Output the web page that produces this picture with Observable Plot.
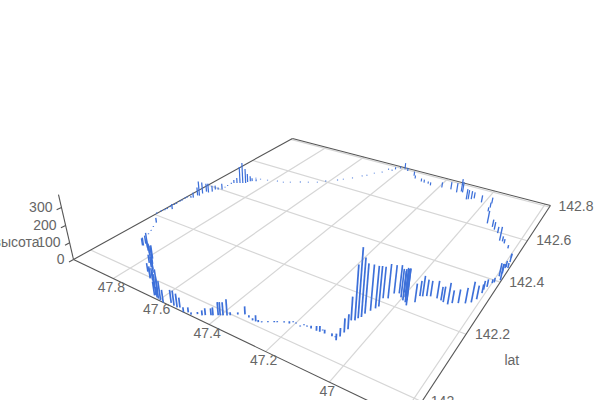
<!DOCTYPE html>
<html>
<head>
<meta charset="utf-8">
<style>html,body{margin:0;padding:0;background:#fff}svg{display:block}</style>
<script src="https://cdn.jsdelivr.net/npm/d3@7"></script>
<script src="https://cdn.jsdelivr.net/npm/@observablehq/plot@0.6"></script>
</head>
<body>
<div id="chart"></div>
<script>
// Values: 47.x axis, 142.x axis ("lat"), height ("высота")
const axisAValues = [
47.945,47.931,47.918,47.908,47.881,47.867,47.870,47.830,47.798,47.781,47.758,47.735,47.720,47.704,47.690,47.668,47.658,47.639,47.628,47.625,47.607,47.595,47.581,47.614,
47.560,47.544,47.530,47.523,47.499,47.487,47.473,47.459,47.444,47.437,47.423,47.418,47.406,47.401,47.394,47.384,47.377,47.361,47.344,47.326,47.309,47.299,47.291,47.282,47.268,47.253,47.246,47.229,47.214,47.208,47.198,47.181,47.175,47.165,47.151,47.133,47.123,47.119,47.108,47.085,47.075,47.067,
47.066,47.065,47.063,47.075,47.066,47.063,47.058,47.057,47.050,47.043,47.039,47.047,47.034,47.030,47.017,47.004,46.993,46.983,46.974,47.007,46.994,46.983,46.994,
46.959,46.959,46.952,46.942,46.932,46.912,46.898,46.889,46.874,46.865,46.850,46.832,46.819,46.811,46.808,46.810,46.806,46.799,46.795,46.783,46.790,46.793,46.789,46.794,46.784,46.791,46.792,
46.821,46.842,46.851,46.861,46.883,46.901,46.913,46.937,46.965,46.968,46.974,47.011,47.046,47.053,47.063,47.069,47.103,47.110,47.123,47.152,47.189,47.236,47.250,47.268,47.282,47.315,47.330,47.373,47.390,47.410,47.424,47.430,47.447,
47.457,47.480,47.497,47.510,47.534,47.560,47.576,47.612,47.635,47.666,47.694,47.728,47.752,47.778,47.817,47.847,47.869,
47.853,47.867,47.873,47.878,47.879,47.888,47.898,47.908,47.918,47.922,47.923,47.922,47.920,47.933,47.943,47.941,47.948,47.960,47.962,47.960,47.967,47.968,47.975,47.988,47.987,47.986,47.970,47.986,47.992,47.993,
47.989,47.988,47.987,47.988,47.987,47.870,47.846,47.813,47.787,47.772,47.747,47.738,47.708
];
const axisBValues = [
142.173,142.154,142.138,142.123,142.100,142.081,142.080,142.072,142.061,142.054,142.039,142.025,142.016,141.997,141.995,141.985,141.979,141.975,141.960,141.962,141.957,141.955,141.953,141.958,
141.961,141.958,141.957,141.960,141.953,141.958,141.956,141.964,141.966,141.970,141.976,141.978,141.984,141.986,141.989,141.993,141.997,142.007,142.015,142.012,142.009,142.010,142.011,142.014,142.021,142.028,142.031,142.038,142.041,142.048,142.048,142.045,142.052,142.052,142.052,142.052,142.053,142.059,142.054,142.055,142.056,142.050,
142.063,142.077,142.089,142.115,142.119,142.128,142.135,142.148,142.162,142.174,142.183,142.212,142.217,142.239,142.245,142.235,142.228,142.225,142.217,142.254,142.244,142.233,142.240,
142.236,142.260,142.263,142.268,142.272,142.273,142.271,142.268,142.266,142.275,142.282,142.289,142.299,142.315,142.341,142.355,142.368,142.387,142.392,142.407,142.435,142.420,142.487,142.507,142.461,142.463,142.458,
142.541,142.558,142.564,142.564,142.595,142.607,142.617,142.627,142.688,142.710,142.735,142.726,142.737,142.728,142.723,142.720,142.753,142.756,142.744,142.752,142.749,142.744,142.750,142.750,142.752,142.760,142.775,142.794,142.800,142.798,142.784,142.770,142.770,
142.743,142.724,142.700,142.688,142.661,142.640,142.626,142.602,142.583,142.569,142.557,142.541,142.530,142.526,142.515,142.509,142.507,
142.494,142.488,142.485,142.477,142.469,142.464,142.460,142.455,142.450,142.442,142.427,142.415,142.401,142.395,142.391,142.377,142.367,142.368,142.354,142.340,142.338,142.322,142.318,142.313,142.293,142.272,142.245,142.238,142.221,142.206,
142.306,142.286,142.265,142.250,142.230,142.090,142.080,142.065,142.051,142.038,142.028,142.012,142.000
];
const heightValues = [
31,6,6,6,49,49,43,60,60,80,60,55,85,60,72,60,90,120,78,120,125,108,72,60,
73,84,78,56,28,28,12,12,28,39,39,45,73,73,73,90,17,12,45,12,12,34,12,6,6,6,6,6,12,6,6,6,6,6,15,26,32,6,21,16,6,36,
46,77,82,130,296,372,315,270,250,232,222,176,192,160,160,160,165,176,203,132,154,176,165,
105,88,116,94,88,99,77,88,121,72,77,88,116,77,50,50,44,22,27,93,55,77,50,24,31,37,24,
20,26,32,85,40,47,47,80,26,33,40,47,40,54,61,68,70,84,63,50,36,21,15,21,21,21,29,22,45,15,15,8,8,
6,6,6,6,6,6,6,6,6,6,6,6,6,6,6,6,6,
14,21,35,55,97,138,110,35,21,8,6,6,40,14,27,40,61,54,75,95,54,34,14,8,8,8,34,8,8,8,
8,8,8,8,8,49,55,60,72,49,60,50,65
];
const axisATicks = [47.8,47.6,47.4,47.2,47,46.8];
const axisBTicks = [142,142.2,142.4,142.6,142.8];
const heightTicks = [0,100,200,300];
const axisADomain = [46.78,47.994];
const axisBDomain = [141.953,142.81];
const heightMax = 370;
const axisBName = "lat";
const heightName = "высота";

// Perspective camera: unit floor square + height -> homogeneous picture coordinates
const camera = [
  [216.1, 354, -0.05063, 73],
  [37.9, -57.2, -0.20929, 259],
  [-0.2931, 0.4625, -0.0001734, 1]
];
function project(a, b, h) {
  const s = (axisADomain[1] - a) / (axisADomain[1] - axisADomain[0]);
  const t = (b - axisBDomain[0]) / (axisBDomain[1] - axisBDomain[0]);
  const v = [s, t, h, 1];
  const [X, Y, W] = camera.map(r => r[0]*v[0] + r[1]*v[1] + r[2]*v[2] + r[3]*v[3]);
  return {x: X / W, y: Y / W, w: W};
}
const [aLo, aHi] = axisADomain, [bLo, bHi] = axisBDomain;
const seg = (p, q) => { const u = project(...p), v = project(...q); return {x1: u.x, y1: u.y, x2: v.x, y2: v.y}; };
const linkOf = (rows, o) => Plot.link(rows, {x1: "x1", y1: "y1", x2: "x2", y2: "y2", ...o});

const gridRows = [
  ...axisATicks.map(a => seg([a, bLo, 0], [a, bHi, 0])),
  ...axisBTicks.map(b => seg([aLo, b, 0], [aHi, b, 0]))
];
const edgeRows = [
  seg([aHi, bLo, 0], [aHi, bHi, 0]),
  seg([aHi, bHi, 0], [aLo, bHi, 0]),
  seg([aLo, bHi, 0], [aLo, bLo, 0]),
  seg([aLo, bLo, 0], [aHi, bLo, 0]),
  seg([aHi, bLo, 0], [aHi, bLo, heightMax]),
  ...heightTicks.map(h => seg([aHi, bLo, h], [aHi, bLo - 0.012, h]))
];
const barRows = axisAValues.map((a, i) => {
  const r = seg([a, axisBValues[i], 0], [a, axisBValues[i], heightValues[i]]);
  return {...r, width: 1.5 / project(a, axisBValues[i], 0).w};
});
const labelOf = (rows, o) => Plot.text(rows, {x: "x", y: "y", fill: "#666", fontSize: 14, fontFamily: "Liberation Sans, Arial, sans-serif", lineAnchor: "middle", ...o});
const aLabels = axisATicks.slice(0, 5).map(a => ({...project(a, bLo, 0), text: String(a)}));
const bLabels = axisBTicks.map(b => ({...project(aLo, b, 0), text: String(b)}));
const hLabels = heightTicks.map(h => ({...project(aHi, bLo, h), text: String(h)}));

const chart = Plot.plot({
  width: 600, height: 400,
  marginTop: 0, marginRight: 0, marginBottom: 0, marginLeft: 0,
  x: {domain: [0, 600], range: [0, 600], axis: null},
  y: {domain: [0, 400], range: [0, 400], axis: null},
  marks: [
    linkOf(gridRows, {stroke: "#d6d6d6", strokeWidth: 1.2}),
    linkOf(edgeRows, {stroke: "#555", strokeWidth: 1.1}),
    linkOf(barRows, {stroke: "#3d70d9", strokeWidth: "width"}),
    labelOf(aLabels, {text: "text", dx: -2, dy: 9}),
    labelOf(bLabels, {text: "text", textAnchor: "start", dx: 9}),
    labelOf(hLabels, {text: "text", textAnchor: "end", dx: -9}),
    labelOf([{...project(aLo, 142.125, 0), text: axisBName}], {text: "text", dx: 61, dy: 3}),
    labelOf([{...project(aHi, bLo, 100), text: heightName}], {text: "text", textAnchor: "end", dx: -30})
  ]
});
document.getElementById("chart").append(chart);
</script>
</body>
</html>
